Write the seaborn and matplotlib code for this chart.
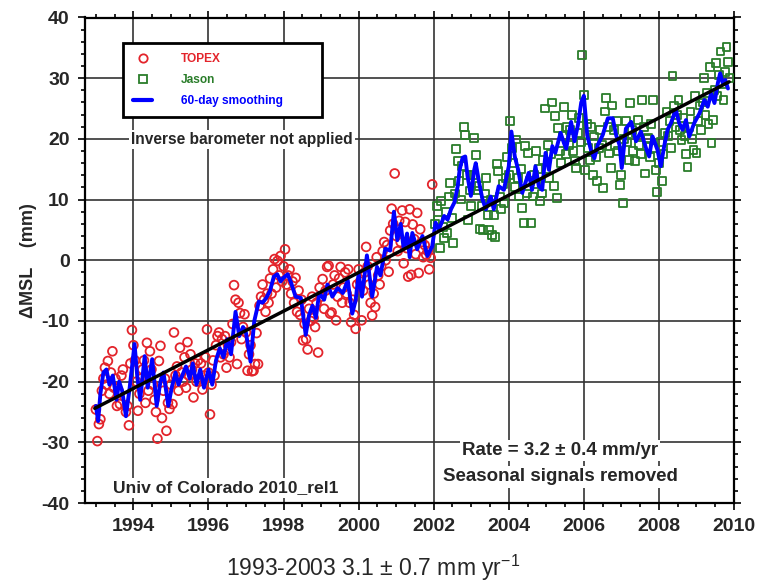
import numpy as np
import matplotlib
matplotlib.use("Agg")
import matplotlib.pyplot as plt
from matplotlib.lines import Line2D
import matplotlib.ticker as mticker
import seaborn as sns

# ---------------- data ----------------
TOPEX_START = 1993.00
TOPEX_STEP = 0.04
topex_mm = [
    -24.6, -29.8, -27.0, -26.2, -21.5, -19.5, -17.7, -20.5, -16.6, -22.0, -18.5, -15.0, -21.0,
    -19.5, -24.0, -21.5, -23.7, -19.0, -18.0, -22.5, -25.0, -24.0, -27.2, -17.0, -11.5,
    -14.0, -16.5, -20.0, -24.8, -22.0, -19.5, -18.0, -16.5, -23.5, -13.6, -21.5, -15.0, -18.0,
    -20.5, -23.0, -25.0, -29.4, -16.6, -14.1, -26.0, -21.5, -19.5, -28.1, -23.5, -24.5,
    -20.5, -23.7, -11.9, -19.0, -17.5, -21.5, -14.4, -18.5, -20.0, -16.0, -21.0, -13.5, -19.0,
    -15.5, -18.0, -22.6, -17.0, -20.0, -16.5, -19.5, -17.0, -21.3, -19.0, -16.0, -11.4,
    -18.5, -25.4, -20.5, -16.5, -19.0, -14.0, -12.5, -11.9, -16.0, -13.0, -15.5, -12.5, -17.7,
    -14.0, -16.0, -13.5, -10.5, -4.1, -6.5, -17.1, -7.0, -8.7, -13.0, -11.0, -8.9,
    -11.9, -18.2, -15.5, -14.0, -18.3, -18.2, -17.1, -12.0, -17.1, -7.5, -6.0, -4.0, -6.5,
    -8.5, -5.5, -7.0, -3.0, -5.5, -1.5, 0.2, -4.5, -0.1, -2.5, 0.7, -3.5,
    -1.0, 1.8, -4.0, -2.5, -1.5, -5.5, -3.5, -7.0, -2.9, -8.5, -5.0, -9.0, -6.5,
    -13.2, -10.5, -13.0, -14.7, -8.0, -10.0, -6.0, -9.5, -11.0, -7.0, -15.2, -4.5,
    -6.0, -3.1, -8.0, -5.0, -1.1, -0.9, -8.8, -8.6, -4.0, -2.5, -9.9, -6.0, -3.0,
    -1.1, -7.0, -4.5, -2.0, -5.5, -1.5, -7.0, -10.2, -6.5, -9.0, -11.3, -4.0,
    -1.5, -3.5, -9.9, -5.0, -2.0, 2.2, -1.0, -4.0, -7.0, -9.1, -5.5, -7.7, 0.5,
    -2.5, -4.0, -1.0, 1.5, 3.0, 0.0, 2.5, -1.9, 4.9, 8.5, 6.0, 14.3,
    4.0, 1.5, 6.5, 3.0, 8.2, -0.5, 6.3, 2.0, -2.7, 8.4, -2.4, 5.9, 3.5,
    1.0, 7.8, -2.1, 5.1, 3.0, 0.5, 2.5, 0.9, 1.5, -1.5, 0.4, 12.5,
]

JASON_START = 2002.04
JASON_STEP = 0.04
jason_mm = [
    6.0, 8.9, 6.7, 2.0, 9.7, 5.5, 3.7, 8.0, 4.5, 10.5, 12.7, 7.0,
    2.9, 11.0, 18.4, 16.3, 13.0, 10.0, 15.5, 22.0, 20.7, 14.0, 6.7, 11.5,
    9.0, 14.0, 20.2, 17.4, 11.5, 12.2, 5.1, 9.0, 5.0, 11.0, 13.6, 7.5, 5.0,
    10.0, 4.2, 7.5, 3.9, 15.8, 14.7, 10.5, 8.5, 12.5, 9.5, 13.5, 17.0,
    14.0, 22.9, 18.5, 16.0, 12.0, 19.9, 13.5, 10.5, 15.0, 8.6, 6.1, 18.8, 11.0,
    17.7, 13.0, 6.2, 10.5, 14.0, 18.0, 12.5, 15.0, 9.7, 11.0, 16.5, 25.0,
    15.0, 19.0, 13.5, 17.5, 26.0, 12.2, 23.7, 10.3, 21.8, 18.0, 16.0, 20.5, 25.3,
    17.5, 22.0, 19.0, 21.5, 24.0, 18.0, 16.3, 15.2, 21.0, 23.5, 19.5, 33.8,
    27.3, 14.9, 22.5, 18.5, 16.5, 22.0, 14.1, 20.4, 17.0, 13.0, 18.5, 21.5, 19.0,
    11.9, 24.5, 26.8, 22.0, 17.6, 15.2, 25.5, 21.5, 19.0, 23.0, 18.0, 12.4,
    14.1, 9.4, 20.0, 23.0, 19.5, 16.5, 25.9, 21.5, 18.0, 16.3, 21.0, 23.1, 19.0,
    17.5, 26.4, 22.0, 14.3, 20.0, 20.1, 17.0, 22.5, 26.4, 18.5, 14.9, 11.3,
    16.0, 19.5, 13.0, 17.5, 21.0, 24.5, 20.5, 23.0, 18.5, 30.3, 25.5, 22.0, 24.0,
    26.4, 21.5, 19.8, 23.5, 20.5, 17.5, 15.4, 22.0, 24.5, 20.0, 18.2, 27.0,
    17.7, 23.0, 25.5, 21.5, 26.0, 30.0, 24.0, 27.5, 22.5, 31.9, 19.3, 23.1,
    28.0, 32.5, 27.0, 30.5, 34.4, 29.0, 26.4, 31.0, 35.2, 32.7, 30.0,
]

smooth_year = [
    1993.00, 1993.06, 1993.12, 1993.20, 1993.28, 1993.36, 1993.45, 1993.55, 1993.62, 1993.70,
    1993.80, 1993.90, 1994.03, 1994.10, 1994.18, 1994.30, 1994.38, 1994.50, 1994.62, 1994.72,
    1994.80, 1994.93, 1995.02, 1995.12, 1995.20, 1995.30, 1995.40, 1995.50, 1995.58, 1995.68,
    1995.78, 1995.88, 1996.00, 1996.10, 1996.20, 1996.30, 1996.40, 1996.50, 1996.60, 1996.72,
    1996.82, 1996.92, 1997.00, 1997.12, 1997.22, 1997.34, 1997.44, 1997.54, 1997.64, 1997.74,
    1997.83, 1997.92, 1997.98, 1998.05, 1998.11, 1998.20, 1998.32, 1998.46, 1998.59, 1998.68,
    1998.77, 1998.86, 1998.95, 1999.08, 1999.17, 1999.30, 1999.44, 1999.58, 1999.71, 1999.83,
    1999.92, 2000.00, 2000.09, 2000.22, 2000.36, 2000.49, 2000.58, 2000.71, 2000.84, 2000.94,
    2001.03, 2001.12, 2001.20, 2001.29, 2001.36, 2001.43, 2001.56, 2001.70, 2001.83, 2001.96,
    2002.05, 2002.14, 2002.28, 2002.37, 2002.46, 2002.55, 2002.64, 2002.69, 2002.77, 2002.84,
    2002.90, 2002.99, 2003.08, 2003.12, 2003.21, 2003.30, 2003.39, 2003.52, 2003.60, 2003.73,
    2003.87, 2004.00, 2004.07, 2004.16, 2004.25, 2004.36, 2004.44, 2004.53, 2004.62, 2004.71,
    2004.80, 2004.89, 2004.98, 2005.07, 2005.16, 2005.24, 2005.38, 2005.47, 2005.53, 2005.66,
    2005.75, 2005.84, 2005.93, 2006.00, 2006.09, 2006.20, 2006.28, 2006.37, 2006.50, 2006.64,
    2006.77, 2006.86, 2006.95, 2007.01, 2007.12, 2007.26, 2007.39, 2007.52, 2007.66, 2007.74,
    2007.83, 2007.96, 2008.05, 2008.14, 2008.23, 2008.32, 2008.45, 2008.54, 2008.63, 2008.72,
    2008.81, 2008.94, 2009.08, 2009.21, 2009.30, 2009.39, 2009.48, 2009.57, 2009.63, 2009.70,
    2009.77, 2009.84,
]
smooth_mm = [
    -24.0, -26.5, -22.0, -18.5, -18.0, -20.5, -19.0, -23.0, -20.0, -21.5,
    -25.7, -21.0, -13.8, -19.0, -23.0, -15.8, -21.0, -16.3, -24.0, -20.0,
    -18.5, -24.0, -21.0, -18.5, -20.5, -19.0, -17.5, -19.5, -17.0, -20.5,
    -18.0, -21.0, -18.0, -20.5, -16.5, -14.5, -16.0, -13.0, -15.5, -8.5,
    -12.5, -11.0, -12.0, -16.7, -10.0, -6.8, -7.0, -6.2, -5.0, -2.7,
    -2.3, -3.5, -3.0, -2.6, -2.3, -3.7, -6.0, -6.2, -12.3, -9.0,
    -7.5, -9.5, -5.4, -6.5, -4.0, -6.0, -4.6, -5.4, -3.3, -8.8,
    -6.6, -2.2, -6.0, 0.8, -6.0, -1.1, -2.5, 1.9, 1.6, 8.0,
    3.3, 6.0, 1.9, 4.4, 0.5, 4.5, 1.8, 4.0, 0.7, 2.3,
    6.2, 5.1, 7.3, 6.7, 8.4, 9.5, 12.2, 14.9, 16.9, 17.1,
    13.9, 10.6, 14.9, 16.0, 12.8, 10.0, 8.4, 10.5, 8.4, 12.2,
    11.6, 15.5, 21.2, 17.1, 14.9, 11.1, 12.7, 14.4, 11.6, 15.5,
    12.2, 11.6, 17.7, 14.9, 18.8, 17.7, 21.0, 19.3, 18.4, 22.8,
    19.6, 22.2, 26.0, 27.1, 20.6, 17.9, 16.8, 19.0, 20.6, 23.4,
    23.4, 20.6, 19.0, 15.2, 21.7, 22.8, 19.6, 21.2, 18.4, 17.1,
    20.4, 18.2, 15.5, 18.8, 21.5, 22.6, 24.8, 22.6, 21.5, 23.1,
    20.4, 22.6, 24.2, 26.4, 25.3, 27.5, 25.9, 29.2, 30.8, 29.2,
    29.7, 28.3,
]

trend_year = [1992.97, 2009.87]
trend_mm = [-24.4, 29.4]

legend_labels = ["TOPEX", "Jason", "60-day smoothing"]
x_major = 2
x_minor = 0.5
y_major = 10
y_minor = 2

RED = "#e3242b"
GREEN = "#2a7d2a"
BLUE = "#0000ff"

# ---------------- style ----------------
sns.set_style("ticks")
plt.rcParams["font.family"] = ["Liberation Sans", "DejaVu Sans"]
plt.rcParams["mathtext.fontset"] = "custom"
plt.rcParams["mathtext.rm"] = "Liberation Sans"
plt.rcParams["mathtext.it"] = "Liberation Sans:italic"
plt.rcParams["mathtext.bf"] = "Liberation Sans:bold"
plt.rcParams["axes.unicode_minus"] = False

fig = plt.figure(figsize=(7.58, 5.83), dpi=100)
ax = fig.add_axes([85 / 758, 1 - 503 / 583, 649 / 758, 485.5 / 583])

topex_t = TOPEX_START + TOPEX_STEP * np.arange(len(topex_mm))
jason_t = JASON_START + JASON_STEP * np.arange(len(jason_mm))

sns.scatterplot(x=topex_t, y=topex_mm, ax=ax, marker="o", s=40, color=RED,
                facecolors="none", edgecolor=RED, linewidth=1.3, zorder=3)
sns.scatterplot(x=jason_t, y=jason_mm, ax=ax, marker="s", s=32, color=GREEN,
                facecolors="none", edgecolor=GREEN, linewidth=1.3, zorder=3)
sns.lineplot(x=smooth_year, y=smooth_mm, ax=ax, sort=False, estimator=None,
             color=BLUE, lw=2.8, zorder=4)
sns.lineplot(x=trend_year, y=trend_mm, ax=ax, sort=False, estimator=None,
             color="black", lw=2.5, zorder=5)

ax.set_xlim(1992.71, 2010.0)
ax.set_ylim(-40, 40)
ax.xaxis.set_major_locator(mticker.MultipleLocator(x_major))
ax.xaxis.set_minor_locator(mticker.MultipleLocator(x_minor))
ax.yaxis.set_major_locator(mticker.MultipleLocator(y_major))
ax.yaxis.set_minor_locator(mticker.MultipleLocator(y_minor))
ax.xaxis.set_major_formatter(mticker.FormatStrFormatter("%d"))
ax.yaxis.set_major_formatter(mticker.FormatStrFormatter("%d"))

ax.tick_params(which="both", direction="out", top=True, right=True,
               labeltop=False, labelright=False, color="black", width=1.2)
ax.tick_params(which="major", length=5, labelsize=14, pad=6)
ax.tick_params(which="minor", length=3)
for lab in ax.get_xticklabels() + ax.get_yticklabels():
    lab.set_fontweight("bold")

ax.grid(True, which="major", color="#333333", lw=1.2)
ax.set_axisbelow(True)
for sp in ax.spines.values():
    sp.set_visible(True)
    sp.set_linewidth(1.6)
    sp.set_color("black")

ax.set_xlabel("")
ax.set_ylabel("\u0394MSL    (mm)", fontsize=13, fontweight="bold", labelpad=3)

handles = [
    Line2D([], [], marker="o", ls="none", mfc="none", mec=RED, ms=6, mew=1.3),
    Line2D([], [], marker="s", ls="none", mfc="none", mec=GREEN, ms=5.5, mew=1.3),
    Line2D([], [], color=BLUE, lw=3),
]
leg = ax.legend(handles, legend_labels, loc="upper left",
                bbox_to_anchor=(0.0586, 0.807, 0.306, 0.1405), mode="expand",
                borderaxespad=0, borderpad=0.85, handlelength=1.6,
                handletextpad=2.4, labelspacing=0.75, fancybox=False,
                framealpha=1, edgecolor="black", labelcolor=[RED, GREEN, BLUE],
                prop={"weight": "bold", "size": 8.6})
leg.get_frame().set_linewidth(2)

box = dict(facecolor="white", edgecolor="none", pad=1.5)
ax.text(0.242, 0.748, "Inverse barometer not applied", transform=ax.transAxes,
        ha="center", va="center", fontsize=11.2, fontweight="bold", bbox=box, zorder=6)
ax.text(0.2165, 0.031, "Univ of Colorado 2010_rel1", transform=ax.transAxes,
        ha="center", va="center", fontsize=12.6, fontweight="bold", bbox=box, zorder=6)
ax.text(0.732, 0.109, "Rate = 3.2 \u00b1 0.4 mm/yr", transform=ax.transAxes,
        ha="center", va="center", fontsize=13.5, fontweight="bold", bbox=box, zorder=6)
ax.text(0.732, 0.0536, "Seasonal signals removed", transform=ax.transAxes,
        ha="center", va="center", fontsize=13.5, fontweight="bold", bbox=box, zorder=6)

fig.text(373 / 758, 1 - 568 / 583, "1993-2003 3.1 \u00b1 0.7 mm yr$^{-1}$",
         ha="center", va="center", fontsize=16.5, fontweight="normal")

fig.savefig("out.png", dpi=100)
